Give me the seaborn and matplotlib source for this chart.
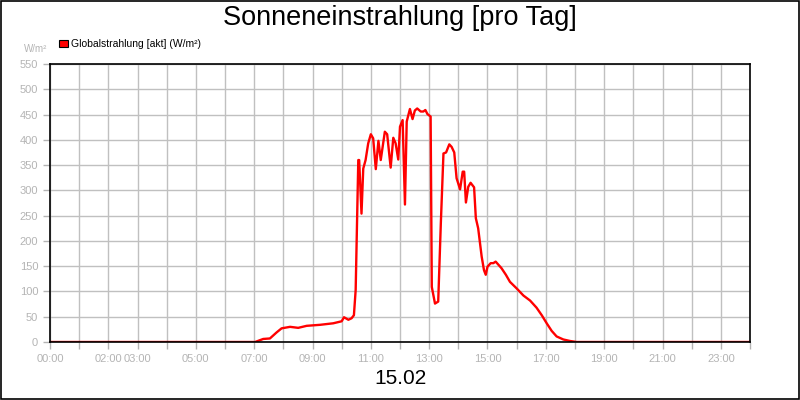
import pandas as pd
import matplotlib
matplotlib.use("Agg")
import matplotlib.pyplot as plt
import seaborn as sns
from matplotlib.patches import Rectangle

# data (hour of day, W/m²)
hours = [0.0, 7.03, 7.31, 7.54, 7.77, 7.94, 8.23, 8.51, 8.8, 9.26, 9.71, 10.0,
         10.08, 10.23, 10.34, 10.42, 10.48, 10.57, 10.6, 10.68, 10.74, 10.82,
         10.91, 11.0, 11.08, 11.17, 11.26, 11.34, 11.48, 11.56, 11.68, 11.77,
         11.85, 11.94, 12.0, 12.09, 12.17, 12.23, 12.34, 12.43, 12.51, 12.59,
         12.71, 12.8, 12.87, 12.94, 13.05, 13.09, 13.2, 13.31, 13.4, 13.49,
         13.58, 13.69, 13.77, 13.86, 13.94, 14.06, 14.15, 14.2, 14.26, 14.34,
         14.42, 14.54, 14.6, 14.68, 14.8, 14.88, 14.94, 15.0, 15.11, 15.2,
         15.28, 15.48, 15.63, 15.77, 16.0, 16.23, 16.46, 16.68, 16.86, 17.03,
         17.2, 17.37, 17.6, 17.83, 18.06, 24.0]
strahlung = [0, 0, 6, 7, 19, 27, 30, 28, 32, 34, 37, 41,
             49, 44, 47, 53, 103, 360, 360, 254, 343, 360,
             393, 411, 403, 342, 398, 360, 416, 411, 345, 404,
             393, 361, 426, 439, 272, 436, 461, 441, 458, 462,
             456, 456, 459, 451, 446, 109, 76, 80, 235, 373,
             375, 391, 386, 375, 324, 302, 337, 337, 276, 307,
             315, 306, 245, 225, 169, 142, 133, 149, 156, 156,
             159, 146, 133, 119, 106, 92, 82, 68, 53, 37,
             22, 11, 5, 2, 0, 0]

tick_hours = [0, 2, 3, 5, 7, 9, 11, 13, 15, 17, 19, 21, 23]
tick_labels = ["00:00", "02:00", "03:00", "05:00", "07:00", "09:00", "11:00",
               "13:00", "15:00", "17:00", "19:00", "21:00", "23:00"]
y_ticks = list(range(0, 551, 50))

sns.set_style("white")
plt.rcParams['font.family'] = ['Liberation Sans', 'DejaVu Sans']
plt.rcParams['text.color'] = 'black'

df = pd.DataFrame({"h": hours, "w": strahlung})

fig = plt.figure(figsize=(8, 4), dpi=100)
fig.patches.append(Rectangle((0.0008, 0.0015), 0.9985, 0.997, transform=fig.transFigure,
                             fill=False, edgecolor="black", linewidth=1.2))
ax = fig.add_axes([0.0625, 0.145, 0.875, 0.695])

sns.lineplot(data=df, x="h", y="w", ax=ax, color="#ff0000", linewidth=1.7)

ax.set_xlim(0, 24)
ax.set_ylim(0, 550)
ax.set_xticks(range(0, 25), minor=True)
ax.set_xticks(tick_hours)
ax.set_xticklabels(tick_labels)
ax.set_yticks(y_ticks)
ax.grid(True, which="both", color="#c0c0c0", linewidth=1)
ax.set_axisbelow(True)
ax.tick_params(axis="both", which="both", colors="#b4b4b4", labelsize=8,
               length=5, width=1, direction="out", left=True, bottom=True)
ax.tick_params(axis="x", which="major", pad=4)
for s in ax.spines.values():
    s.set_color("black")
    s.set_linewidth(1.2)
ax.set_xlabel("")
ax.set_ylabel("")

fig.text(0.5, 0.955, "Sonneneinstrahlung [pro Tag]", ha="center", va="center",
         fontsize=19.5, color="black")
fig.text(0.5, 0.055, "15.02", ha="center", va="center", fontsize=15, color="black")
fig.text(0.03, 0.878, "W/m²", ha="left", va="center", fontsize=7, color="#b4b4b4")
fig.patches.append(Rectangle((0.0735, 0.882), 0.0115, 0.019, transform=fig.transFigure,
                             facecolor="#ff0000", edgecolor="black", linewidth=0.8))
fig.text(0.089, 0.891, "Globalstrahlung [akt] (W/m²)", ha="left", va="center",
         fontsize=7.5, color="black")

fig.savefig("out.png", dpi=100)
